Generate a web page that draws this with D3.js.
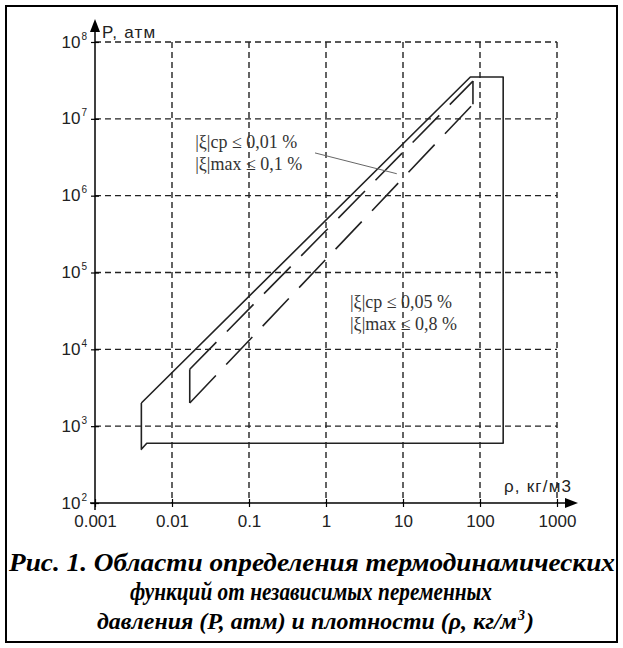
<!DOCTYPE html>
<html>
<head>
<meta charset="utf-8">
<script src="https://cdn.jsdelivr.net/npm/d3@7"></script>
<style>
  body { margin: 0; background: #fff; }
  svg { display: block; }
  .grid line { stroke: #222; stroke-width: 1.4; stroke-dasharray: 6,4; }
  .tick-lbl { font-family: "Liberation Sans", Arial, sans-serif; font-size: 17px; fill: #222; }
  .ax-lbl { font-family: "Liberation Sans", Arial, sans-serif; font-size: 17px; fill: #222; letter-spacing: 1.2px; }
  .note { font-family: "Liberation Serif", "Times New Roman", serif; font-size: 18px; fill: #333; }
  .cap { font-family: "Liberation Serif", "Times New Roman", serif; font-size: 24px; font-weight: bold; font-style: italic; fill: #000; }
</style>
</head>
<body>
<div id="chart"></div>
<script>
// axis ticks
var rhoTicks = [0.001, 0.01, 0.1, 1, 10, 100, 1000];
var rhoTickLabels = ["0.001", "0.01", "0.1", "1", "10", "100", "1000"];
var pTicks = [1e2, 1e3, 1e4, 1e5, 1e6, 1e7, 1e8];
var pTickExp = ["2", "3", "4", "5", "6", "7", "8"];

// region boundaries [rho, P]
var outerRegion = [[0.004, 2000], [75, 3.5e7], [200, 3.5e7], [200, 600], [0.0047, 600], [0.004, 500], [0.004, 2000]];
var innerUpper = [[0.017, 5500], [81, 3.1e7]];
var innerLower = [[0.017, 2000], [81, 1.55e7]];
var innerLeft = [[0.017, 2000], [0.017, 5500]];
var innerRight = [[81, 1.55e7], [81, 3.1e7]];
var leader = [[0.72, 3.6e6], [8.3, 1.93e6]];

var notes1 = ["|ξ|ср ≤ 0,01 %", "|ξ|max ≤ 0,1 %"];
var notes2 = ["|ξ|ср ≤ 0,05 %", "|ξ|max ≤ 0,8 %"];

function drawChart(){
  var W = 623, H = 648;
  var svg = d3.select("#chart").append("svg").attr("width", W).attr("height", H);

  svg.append("rect").attr("x", 6).attr("y", 6).attr("width", 611).attr("height", 636)
    .attr("fill", "none").attr("stroke", "#000").attr("stroke-width", 2);

  var x = d3.scaleLog().domain([0.001, 1000]).range([95, 557]),
      y = d3.scaleLog().domain([100, 1e8]).range([503, 42]);

  // grid
  var grid = svg.append("g").attr("class", "grid");
  grid.selectAll(".gx").data(rhoTicks.slice(1)).enter().append("line")
    .attr("x1", function(d){ return x(d); }).attr("x2", function(d){ return x(d); })
    .attr("y1", y(1e8)).attr("y2", y(100));
  grid.selectAll(".gy").data(pTicks.slice(1)).enter().append("line")
    .attr("y1", function(d){ return y(d); }).attr("y2", function(d){ return y(d); })
    .attr("x1", x(0.001)).attr("x2", x(1000));

  // x axis
  var xAx = svg.append("g").attr("transform", "translate(0," + y(100) + ")")
    .call(d3.axisBottom(x).tickValues(rhoTicks).tickSize(4)
      .tickFormat(function(d, i){ return rhoTickLabels[i]; }));
  xAx.select(".domain").remove();
  xAx.selectAll(".tick line").attr("y1", -4).attr("stroke", "#000").attr("stroke-width", 1.2);
  xAx.selectAll(".tick text").attr("class", "tick-lbl").attr("y", 24).attr("dy", 0);
  svg.append("line").attr("x1", 90).attr("x2", 570).attr("y1", y(100)).attr("y2", y(100))
    .attr("stroke", "#000").attr("stroke-width", 1.5);
  svg.append("path").attr("d", "M578," + y(100) + "L565," + (y(100) - 5) + "L565," + (y(100) + 5) + "Z").attr("fill", "#000");

  // y axis
  var yAx = svg.append("g").attr("transform", "translate(" + x(0.001) + ",0)")
    .call(d3.axisLeft(y).tickValues(pTicks).tickSize(4).tickFormat(""));
  yAx.select(".domain").remove();
  yAx.selectAll(".tick line").attr("x2", 4).attr("x1", -4).attr("stroke", "#000").attr("stroke-width", 1.2);
  yAx.selectAll(".tick text").each(function(d, i){
    var t = d3.select(this).attr("class", "tick-lbl").attr("x", -8).attr("dy", "0.3em").attr("text-anchor", "end");
    t.append("tspan").text("10");
    t.append("tspan").attr("font-size", "10px").attr("dy", "-0.8em").attr("dx", "1").text(pTickExp[i]);
  });
  svg.append("line").attr("x1", x(0.001)).attr("x2", x(0.001)).attr("y1", 510).attr("y2", 30)
    .attr("stroke", "#000").attr("stroke-width", 1.5);
  svg.append("path").attr("d", "M" + x(0.001) + ",19L" + (x(0.001) - 5) + ",32L" + (x(0.001) + 5) + ",32Z").attr("fill", "#000");

  svg.append("text").attr("class", "ax-lbl").attr("x", 102).attr("y", 38).text("P, атм");
  svg.append("text").attr("class", "ax-lbl").attr("x", 504).attr("y", 492).text("ρ, кг/м3");

  // regions
  var line = d3.line().x(function(d){ return x(d[0]); }).y(function(d){ return y(d[1]); });
  svg.append("path").attr("d", line(outerRegion)).attr("fill", "none")
    .attr("stroke", "#222").attr("stroke-width", 1.6).attr("stroke-linejoin", "round");
  [innerUpper, innerLower].forEach(function(s){
    svg.append("path").attr("d", line(s)).attr("fill", "none")
      .attr("stroke", "#222").attr("stroke-width", 1.6).attr("stroke-dasharray", "38,15");
  });
  [innerLeft, innerRight].forEach(function(s){
    svg.append("path").attr("d", line(s)).attr("fill", "none")
      .attr("stroke", "#222").attr("stroke-width", 1.6);
  });
  svg.append("path").attr("d", line(leader)).attr("fill", "none")
    .attr("stroke", "#666").attr("stroke-width", 1);

  // notes
  notes1.forEach(function(s, i){
    svg.append("text").attr("class", "note").attr("x", x(0.02)).attr("y", 148 + i * 22).text(s);
  });
  notes2.forEach(function(s, i){
    svg.append("text").attr("class", "note").attr("x", x(2.05)).attr("y", 308 + i * 22).text(s);
  });

  // caption
  svg.append("text").attr("class", "cap").attr("x", 312).attr("y", 571).attr("text-anchor", "middle")
    .style("font-size", "25px")
    .attr("textLength", 606).attr("lengthAdjust", "spacingAndGlyphs")
    .text("Рис. 1. Области определения термодинамических");
  svg.append("text").attr("class", "cap").attr("x", 311).attr("y", 600).attr("text-anchor", "middle")
    .style("font-size", "25px")
    .attr("textLength", 362).attr("lengthAdjust", "spacingAndGlyphs")
    .text("функций от независимых переменных");
  // superscript drawn as its own text so it does not collide with the line
  var c3 = svg.append("text").attr("class", "cap").attr("x", 307).attr("y", 629).attr("text-anchor", "middle")
    .attr("textLength", 420).attr("lengthAdjust", "spacingAndGlyphs")
    .text("давления (P, атм) и плотности (ρ, кг/м");
  var end3 = 307 + 210;
  svg.append("text").attr("class", "cap").attr("x", end3 + 1).attr("y", 620).style("font-size", "14px").text("3");
  svg.append("text").attr("class", "cap").attr("x", end3 + 9).attr("y", 629).text(")");
}
drawChart();
</script>
</body>
</html>
